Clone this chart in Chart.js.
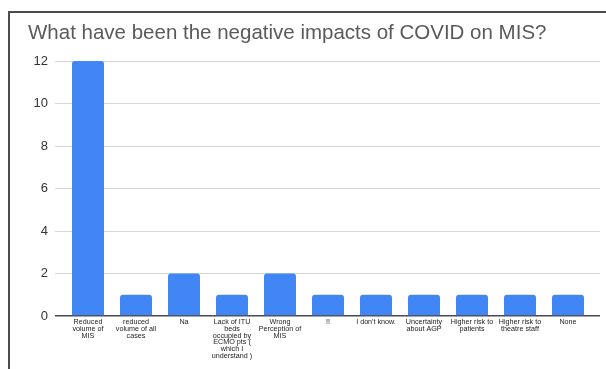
<!DOCTYPE html>
<html>
<head>
<meta charset="utf-8">
<title>Negative impacts of COVID on MIS</title>
<script src="https://cdn.jsdelivr.net/npm/chart.js@4/dist/chart.umd.min.js"></script>
<style>
  html, body { margin: 0; padding: 0; background: #fff; }
  #wrap { position: relative; width: 606px; height: 369px; overflow: hidden; }
  #c { position: absolute; left: 0; top: 0; }
  #frame {
    position: absolute; left: 8px; top: 11px; width: 700px; height: 400px;
    border-left: 2px solid #4d4d4d; border-top: 2px solid #4d4d4d;
    pointer-events: none;
  }
</style>
</head>
<body>
<div id="wrap">
  <canvas id="c" width="606" height="369"></canvas>
  <div id="frame"></div>
</div>
<script>
// Survey answers (each label split into its wrapped lines)
const categories = [
  ["Reduced", "volume of", "MIS"],
  ["reduced", "volume of all", "cases"],
  ["Na"],
  ["Lack of ITU", "beds", "occupied by", "ECMO pts (", "which I", "understand )"],
  ["Wrong", "Perception of", "MIS"],
  ["!!"],
  ["I don't know."],
  ["Uncertainty", "about AGP"],
  ["Higher risk to", "patients"],
  ["Higher risk to", "theatre staff"],
  ["None"]
];
// Number of responses per answer
const responses = [12, 1, 2, 1, 2, 1, 1, 1, 1, 1, 1];
// Value axis
const yTicks = [0, 2, 4, 6, 8, 10, 12];

const FONT = 'Arial, "Liberation Sans", sans-serif';
const gridColor = ctx => (ctx.tick && ctx.tick.value === 0) ? '#4a4a4a' : '#d6d6d6';
const gridWidth = ctx => (ctx.tick && ctx.tick.value === 0) ? 1.5 : 1;

new Chart(document.getElementById('c'), {
  type: 'bar',
  data: {
    labels: categories,
    datasets: [{
      data: responses,
      backgroundColor: '#4285f4',
      borderWidth: 0,
      borderRadius: 3,
      barPercentage: 0.667,
      categoryPercentage: 1
    }]
  },
  options: {
    responsive: false,
    animation: false,
    layout: { padding: { left: 28, right: 6, top: 0, bottom: 0 } },
    plugins: {
      legend: { display: false },
      tooltip: { enabled: false },
      title: {
        display: true,
        text: 'What have been the negative impacts of COVID on MIS?',
        align: 'start',
        color: '#5a5a5a',
        font: { family: FONT, size: 20.5, weight: 'normal', lineHeight: 1.2 },
        padding: { top: 21, bottom: 15.4 }
      }
    },
    scales: {
      x: {
        grid: { display: false, drawTicks: false, tickLength: 0 },
        border: { display: false },
        ticks: {
          autoSkip: false,
          maxRotation: 0,
          minRotation: 0,
          padding: 3,
          color: '#222',
          font: { family: FONT, size: 7.2, lineHeight: 0.93 }
        },
        afterFit: s => { s.height = 53; }
      },
      y: {
        min: yTicks[0],
        max: yTicks[yTicks.length - 1],
        afterBuildTicks: s => { s.ticks = yTicks.map(v => ({ value: v })); },
        grid: { color: gridColor, lineWidth: gridWidth, tickLength: 9 },
        border: { display: false },
        ticks: {
          padding: 7,
          color: '#333',
          font: { family: FONT, size: 13 }
        },
        afterFit: s => { s.width = 36; }
      },
      yRight: {
        position: 'right',
        min: yTicks[0],
        max: yTicks[yTicks.length - 1],
        afterBuildTicks: s => { s.ticks = yTicks.map(v => ({ value: v })); },
        grid: { color: gridColor, lineWidth: gridWidth, tickLength: 8, drawOnChartArea: false },
        border: { display: false },
        ticks: { display: false },
        afterFit: s => { s.width = 8; }
      }
    }
  }
});
</script>
</body>
</html>
